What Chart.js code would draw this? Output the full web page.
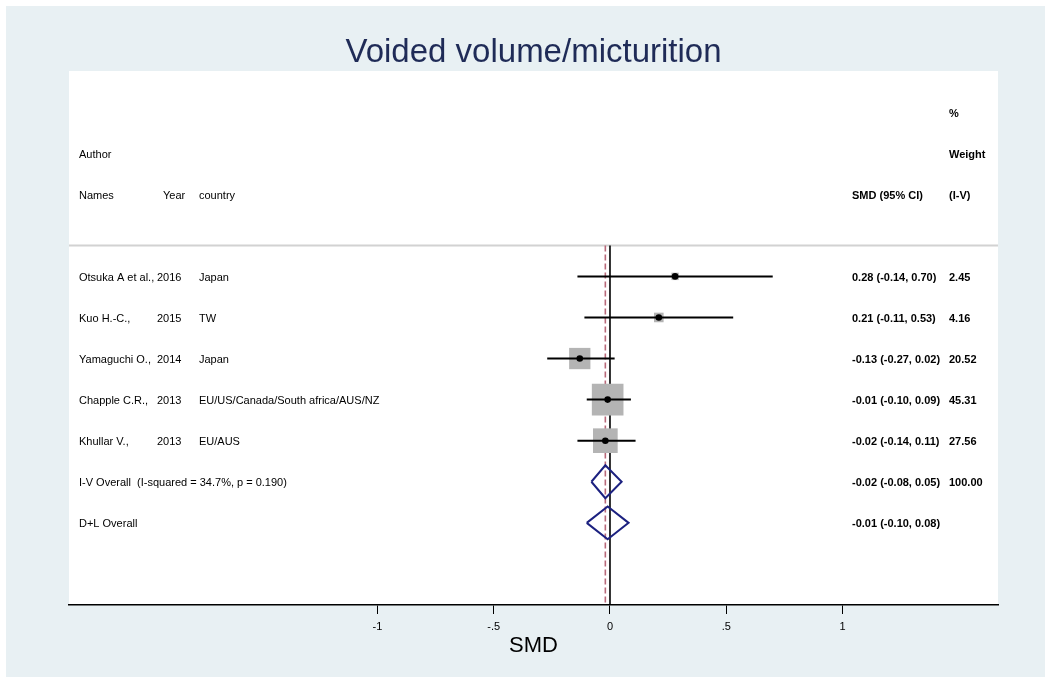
<!DOCTYPE html>
<html>
<head>
<meta charset="utf-8">
<title>Voided volume/micturition</title>
<script src="https://cdn.jsdelivr.net/npm/chart.js@4.4.1/dist/chart.umd.min.js"></script>
<style>
  html, body { margin: 0; padding: 0; background: #fff; overflow: hidden; }
  #wrap { width: 1045px; height: 677px; }
</style>
</head>
<body>
<div id="wrap"><canvas id="forestChart"></canvas></div>
<script>
// Study level results (SMD with 95% CI, inverse-variance weights)
const authors = ['Otsuka A et al.,', 'Kuo H.-C.,', 'Yamaguchi O.,', 'Chapple C.R.,', 'Khullar V.,'];
const years = ['2016', '2015', '2014', '2013', '2013'];
const countries = ['Japan', 'TW', 'Japan', 'EU/US/Canada/South africa/AUS/NZ', 'EU/AUS'];
const smd = [0.28, 0.21, -0.13, -0.01, -0.02];
const ciLow = [-0.14, -0.11, -0.27, -0.10, -0.14];
const ciHigh = [0.70, 0.53, 0.02, 0.09, 0.11];
const weights = [2.45, 4.16, 20.52, 45.31, 27.56];

// Pooled estimates
const pooledLabels = ['I-V Overall  (I-squared = 34.7%, p = 0.190)', 'D+L Overall'];
const pooledSmd = [-0.02, -0.01];
const pooledLow = [-0.08, -0.10];
const pooledHigh = [0.05, 0.08];
const pooledWeight = [100.00, null];

const tickValues = [-1, -0.5, 0, 0.5, 1];
const chartTitle = 'Voided volume/micturition';

const FONT = '"Liberation Sans", Arial, Helvetica, sans-serif';
const X_MIN = -2.327, X_MAX = 1.669;
const ROW_MAX = 13;          // rows run 0..13 top to bottom
const SEP_ROW = 4.25;        // header separator
const BOX = 4.7;             // box side per sqrt(weight)
const studyRow = i => 5 + i;
const pooledRow = i => 5 + authors.length + i;

// text column offsets from the left edge of the plot region
const COL = { name: 10, year: 88, yearHead: 94, country: 130, ci: 783, weight: 880 };

const fmt = v => v.toFixed(2);
const ciText = (e, l, h) => fmt(e) + ' (' + fmt(l) + ', ' + fmt(h) + ')';
const tickText = v => String(v).replace('0.', '.');

const panelPlugin = {
  id: 'panels',
  beforeDraw(chart) {
    const { ctx, chartArea: a, width, height } = chart;
    ctx.save();
    ctx.fillStyle = '#ffffff';
    ctx.fillRect(0, 0, width, height);
    ctx.fillStyle = '#e8f0f3';
    ctx.fillRect(6, 6, width - 6, height - 6);
    ctx.fillStyle = '#ffffff';
    ctx.fillRect(a.left, a.top, a.right - a.left, a.bottom - a.top);
    ctx.fillStyle = '#1f2b57';
    ctx.font = '33px ' + FONT;
    ctx.textAlign = 'center';
    ctx.textBaseline = 'alphabetic';
    ctx.fillText(chartTitle, (a.left + a.right) / 2, 62);
    ctx.restore();
  }
};

const columnsPlugin = {
  id: 'columns',
  afterDatasetsDraw(chart) {
    const { ctx, chartArea: a, scales: { y } } = chart;
    const put = (txt, dx, row, bold) => {
      ctx.font = (bold ? 'bold ' : '') + '11px ' + FONT;
      ctx.fillText(txt, a.left + dx, y.getPixelForValue(row) + 1.5);
    };
    ctx.save();
    ctx.fillStyle = '#000';
    ctx.textAlign = 'left';
    ctx.textBaseline = 'middle';

    // headers
    put('%', COL.weight, 1, true);
    put('Author', COL.name, 2);
    put('Weight', COL.weight, 2, true);
    put('Names', COL.name, 3);
    put('Year', COL.yearHead, 3);
    put('country', COL.country, 3);
    put('SMD (95% CI)', COL.ci, 3, true);
    put('(I-V)', COL.weight, 3, true);

    authors.forEach((name, i) => {
      const r = studyRow(i);
      put(name, COL.name, r);
      put(years[i], COL.year, r);
      put(countries[i], COL.country, r);
      put(ciText(smd[i], ciLow[i], ciHigh[i]), COL.ci, r, true);
      put(fmt(weights[i]), COL.weight, r, true);
    });

    pooledLabels.forEach((lab, i) => {
      const r = pooledRow(i);
      put(lab, COL.name, r);
      put(ciText(pooledSmd[i], pooledLow[i], pooledHigh[i]), COL.ci, r, true);
      if (pooledWeight[i] !== null) put(fmt(pooledWeight[i]), COL.weight, r, true);
    });
    ctx.restore();
  }
};

const line = (pts, color, width, extra) => Object.assign({
  data: pts, showLine: true, borderColor: color, borderWidth: width,
  pointRadius: 0, fill: false, tension: 0
}, extra || {});

const datasets = [];

// header rule, null line and pooled-estimate line
datasets.push(line([{ x: X_MIN, y: SEP_ROW }, { x: X_MAX, y: SEP_ROW }], '#d2d2d2', 2, { order: 6 }));
datasets.push(line([{ x: 0, y: SEP_ROW }, { x: 0, y: ROW_MAX }], '#000', 1.6, { order: 5 }));
datasets.push(line([{ x: pooledSmd[0], y: SEP_ROW }, { x: pooledSmd[0], y: ROW_MAX }], '#b9697a', 1.6,
  { borderDash: [6, 3], order: 5 }));

// weight boxes
datasets.push({
  data: smd.map((v, i) => ({ x: v, y: studyRow(i) })),
  pointStyle: 'rect',
  pointRadius: weights.map(w => BOX * Math.sqrt(w) / Math.SQRT2),
  backgroundColor: '#b4b4b4',
  borderWidth: 0,
  order: 4
});

// confidence intervals
smd.forEach((v, i) => {
  datasets.push(line([{ x: ciLow[i], y: studyRow(i) }, { x: ciHigh[i], y: studyRow(i) }], '#000', 2, { order: 3 }));
});

// point estimates
datasets.push({
  data: smd.map((v, i) => ({ x: v, y: studyRow(i) })),
  pointStyle: 'circle',
  pointRadius: 3.3,
  backgroundColor: '#000',
  borderWidth: 0,
  order: 2
});

// pooled diamonds
pooledSmd.forEach((v, i) => {
  const r = pooledRow(i);
  datasets.push(line([
    { x: pooledLow[i], y: r }, { x: v, y: r - 0.4 }, { x: pooledHigh[i], y: r },
    { x: v, y: r + 0.4 }, { x: pooledLow[i], y: r }
  ], '#1c2180', 2, { order: 1, borderJoinStyle: 'miter' }));
});

new Chart(document.getElementById('forestChart'), {
  type: 'scatter',
  data: { datasets },
  plugins: [panelPlugin, columnsPlugin],
  options: {
    responsive: true,
    maintainAspectRatio: false,
    animation: false,
    events: [],
    layout: { padding: { left: 69, right: 47, top: 71, bottom: 0 } },
    plugins: {
      legend: { display: false },
      tooltip: { enabled: false }
    },
    scales: {
      x: {
        type: 'linear',
        min: X_MIN,
        max: X_MAX,
        afterBuildTicks: s => { s.ticks = tickValues.map(v => ({ value: v })); },
        afterFit: s => { s.height = 72; },
        grid: { drawOnChartArea: false, drawTicks: true, tickLength: 9, color: '#000', lineWidth: 1 },
        border: { display: true, color: '#000', width: 1.5 },
        ticks: {
          color: '#000',
          font: { family: FONT, size: 11 },
          padding: 6,
          maxRotation: 0,
          autoSkip: false,
          callback: v => tickText(v)
        },
        title: {
          display: true,
          text: 'SMD',
          color: '#000',
          font: { family: FONT, size: 22 },
          padding: { top: 0, bottom: 18 }
        }
      },
      y: {
        type: 'linear',
        display: false,
        min: 0,
        max: ROW_MAX,
        reverse: true
      }
    }
  }
});
</script>
</body>
</html>
